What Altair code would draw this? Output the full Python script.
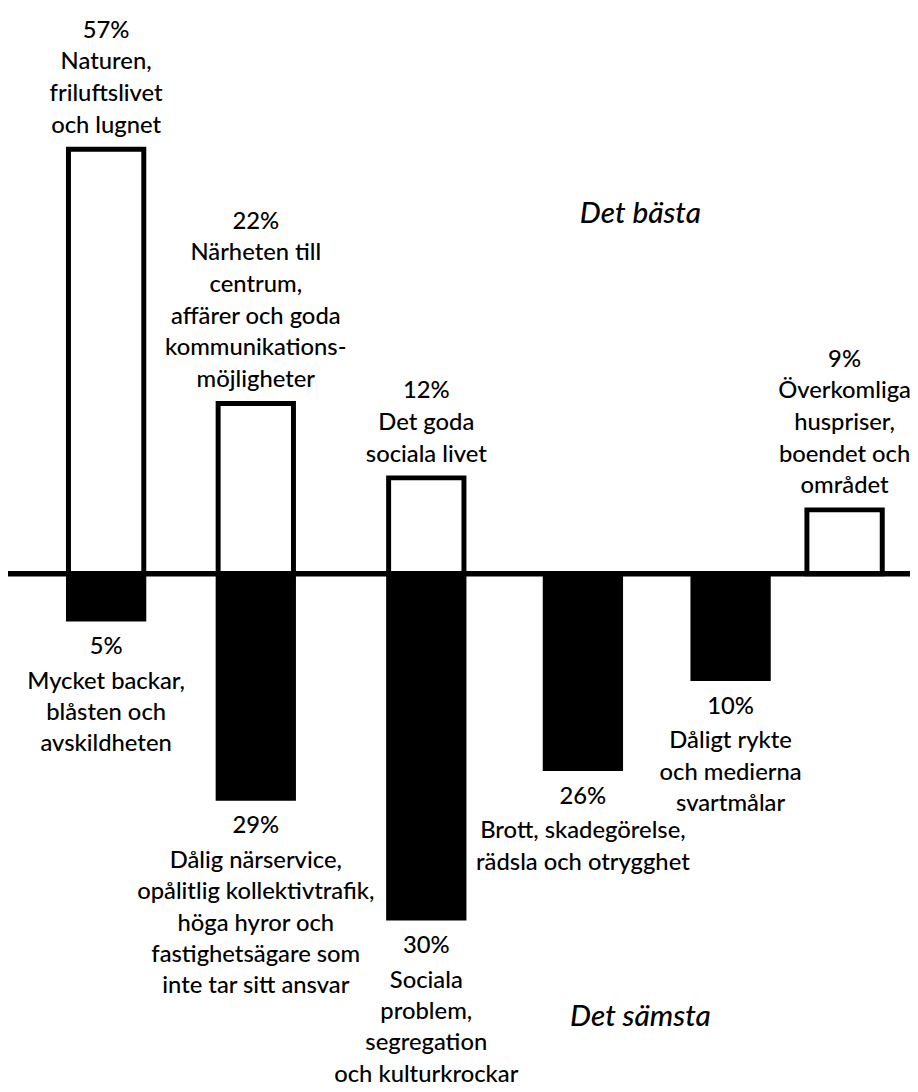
import altair as alt
import pandas as pd

# ---- data ----
best_col = [1, 2, 3, 6]          # column (category slot) of each "best" bar
best_pct = [57, 22, 12, 9]
# drawn bar lengths (in the chart's percent units, as drawn in the picture)
best_bar = [57.1, 22.9, 12.9, 8.6]
best_text = [
    "Naturen,\nfriluftslivet\noch lugnet",
    "Närheten till\ncentrum,\naffärer och goda\nkommunikations-\nmöjligheter",
    "Det goda\nsociala livet",
    "Överkomliga\nhuspriser,\nboendet och\nområdet",
]

worst_col = [1, 2, 3, 4, 5]
worst_pct = [5, 29, 30, 26, 10]
worst_bar = [6.1, 30.2, 46.3, 26.2, 14.1]
worst_text = [
    "Mycket backar,\nblåsten och\navskildheten",
    "Dålig närservice,\nopålitlig kollektivtrafik,\nhöga hyror och\nfastighetsägare som\ninte tar sitt ansvar",
    "Sociala\nproblem,\nsegregation\noch kulturkrockar",
    "Brott, skadegörelse,\nrädsla och otrygghet",
    "Dåligt rykte\noch  medierna\nsvartmålar",
]

titles = ["Det bästa", "Det sämsta"]
title_v = [47.2, -60.8]

# ---- tables ----
best = pd.DataFrame({
    "col": best_col,
    "v": best_bar,
    "label": [f"{p}%\n{t}" for p, t in zip(best_pct, best_text)],
})
worst = pd.DataFrame({
    "col": worst_col,
    "v": [-b for b in worst_bar],
    "pct": [f"{p}%" for p in worst_pct],
    "desc": worst_text,
})
ann = pd.DataFrame({"t": titles, "v": title_v})
zero = pd.DataFrame({"v": [0]})

# ---- layout ----
W, H = 910, 1084
PX = 7.5                 # pixels per percent unit
ymax = 566 / PX
ymin = ymax - H / PX
FONT = "Lato"
FS = 24
FW = 500
LH = 32
GAP = 16.5               # px between last label line and bar end

# the columns of the original are unevenly spaced: piecewise-linear column scale
xscale = alt.Scale(domain=[1, 2, 3, 4, 5, 6], range=[99, 250, 422, 580, 729, 844], padding=0)
yscale = alt.Scale(domain=[ymin, ymax], nice=False, zero=False, padding=0)
xs = alt.X("col:Q", scale=xscale, axis=None)
ys = alt.Y("v:Q", scale=yscale, axis=None)

best_bars = alt.Chart(best).mark_bar(size=76, fill="white", stroke="black", strokeWidth=5).encode(
    x=xs, y=ys, y2=alt.datum(0))
worst_bars = alt.Chart(worst).mark_bar(size=76, fill="black", stroke="black", strokeWidth=5).encode(
    x=xs, y=ys, y2=alt.datum(0))
axis_line = alt.Chart(zero).mark_rule(color="black", strokeWidth=5.5).encode(
    y=ys, x=alt.value(0), x2=alt.value(W))

best_lbl = alt.Chart(best).transform_calculate(
    n="length(split(datum.label, '\\n'))"
).transform_calculate(
    ty=f"datum.v + ({GAP} + {LH} * (datum.n - 1)) / {PX}"
).mark_text(font=FONT, fontSize=FS, fontWeight=FW, lineBreak="\n", lineHeight=LH,
            baseline="alphabetic", align="center", color="black").encode(
    x=xs, y=alt.Y("ty:Q", scale=yscale, axis=None), text="label:N")

worst_pct_lbl = alt.Chart(worst).mark_text(font=FONT, fontSize=FS, fontWeight=FW, baseline="alphabetic",
                                           align="center", dy=35.5, color="black").encode(
    x=xs, y=ys, text="pct:N")
worst_desc_lbl = alt.Chart(worst).mark_text(font=FONT, fontSize=FS, fontWeight=FW, lineBreak="\n",
                                            lineHeight=31.5, baseline="alphabetic", align="center",
                                            dy=70.5, color="black").encode(
    x=xs, y=ys, text="desc:N")
ann_lbl = alt.Chart(ann).mark_text(font=FONT, fontSize=30, fontWeight=FW, fontStyle="italic",
                                   baseline="alphabetic", align="center", color="black").encode(
    x=alt.value(638), y=ys, text="t:N")

chart = alt.layer(best_bars, worst_bars, axis_line, best_lbl, worst_pct_lbl, worst_desc_lbl, ann_lbl).properties(
    width=W, height=H, padding=0, autosize="none", background="white"
).configure_view(stroke=None)

chart.save("out.html", embed_options={"renderer": "svg", "actions": False})
